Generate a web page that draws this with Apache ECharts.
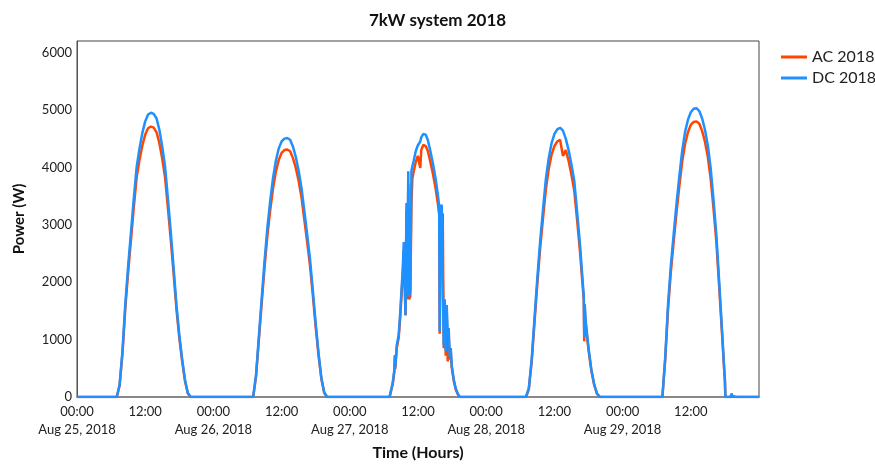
<!DOCTYPE html>
<html>
<head>
<meta charset="utf-8">
<script src="https://cdn.jsdelivr.net/npm/echarts@6/dist/echarts.min.js"></script>
<style>
html,body{margin:0;padding:0;background:#fff;}
#chart{width:875px;height:466px;}
</style>
</head>
<body>
<div id="chart"></div>
<script>
// ---- data (hours of day, watts) ----
const dayLabels = ['Aug 25, 2018', 'Aug 26, 2018', 'Aug 27, 2018', 'Aug 28, 2018', 'Aug 29, 2018'];
const seriesNames = ['AC 2018', 'DC 2018'];
const yTicks = [0, 1000, 2000, 3000, 4000, 5000, 6000];

const halfHours = [6.5,7,7.5,8,8.5,9,9.5,10,10.5,11,11.5,12,12.5,13,13.5,14,14.5,15,15.5,16,16.5,17,17.5,18,18.5,19,19.5,20];

const ac25 = [0,0,200,760,1550,2180,2740,3310,3830,4130,4380,4570,4680,4710,4690,4610,4420,4150,3820,3290,2740,2150,1530,1030,625,280,60,0];
const dc25 = [0,0,220,800,1620,2280,2870,3470,4010,4330,4600,4800,4920,4950,4930,4850,4650,4360,4010,3450,2870,2250,1600,1080,660,300,70,0];

const ac26 = [0,0,360,1000,1640,2260,2810,3260,3640,3930,4130,4250,4300,4310,4280,4160,3990,3760,3480,3090,2700,2290,1770,1220,725,315,75,0];
const dc26 = [0,0,380,1050,1720,2370,2950,3420,3820,4120,4330,4450,4500,4510,4480,4360,4180,3940,3640,3240,2830,2400,1850,1280,760,330,80,0];

const hours27 = [6.5,7.0,7.56,7.85,7.92,8.0,8.26,8.6,8.88,9.08,9.32,9.5,9.6,9.8,9.97,10.11,10.29,10.43,10.64,10.85,11.0,11.25,11.6,11.96,12.4,12.57,12.92,13.36,13.71,14.07,14.6,15.12,15.52,15.73,15.82,16.0,16.17,16.35,16.53,16.7,16.88,17.05,17.23,17.4,17.58,17.76,17.93,18.3,18.64,19.0,19.34,20.0];
const ac27 = [0,0,230,450,690,490,850,1030,1400,1740,2120,2570,2190,1420,3250,1700,3700,1700,1750,3380,3800,3930,4090,4200,3990,4300,4390,4370,4290,4140,3900,3620,3350,3170,1100,3150,2400,3200,850,1600,720,1500,620,1100,650,800,520,280,130,50,0,0];
const dc27 = [0,0,250,480,730,520,900,1080,1480,1830,2230,2700,2300,1430,3380,1800,3930,1750,1850,3950,3980,4120,4280,4380,4450,4520,4580,4570,4480,4330,4080,3790,3500,3320,1150,3300,3350,3380,900,1700,800,1600,1100,1200,700,850,550,300,150,60,0,0];

const hours28 = [6.5,7,7.5,8,8.5,9,9.5,10,10.5,11,11.5,12,12.5,13,13.5,14,14.5,15,15.5,16,16.5,17,17.17,17.25,17.33,17.5,18,18.5,19,19.5,20];
const ac28 = [0,0,140,610,1300,1980,2600,3120,3620,3970,4220,4370,4450,4480,4200,4300,4110,3870,3590,3080,2540,1900,1690,970,1550,1270,820,460,210,55,0];
const dc28 = [0,0,150,650,1370,2080,2720,3270,3800,4160,4420,4580,4660,4690,4640,4500,4300,4050,3760,3220,2660,1980,1760,1050,1620,1330,860,480,220,60,0];

const hours29 = [6.5,7,7.5,8,8.5,9,9.5,10,10.5,11,11.5,12,12.5,13,13.5,14,14.5,15,15.5,16,16.5,17,17.5,17.92,18.0,18.08,19.0,19.17,19.33,19.5,20];
const ac29 = [0,0,650,1540,2190,2720,3230,3690,4110,4410,4610,4740,4790,4800,4760,4630,4440,4180,3800,3280,2700,1910,1100,400,285,0,0,0,0,0,0];
const dc29 = [0,0,690,1620,2300,2850,3380,3860,4300,4620,4830,4960,5020,5030,4980,4850,4650,4380,3980,3430,2820,2000,1150,420,300,0,0,60,20,0,0];

// ---- build series (x = hours since Aug 25 00:00) ----
const days = [
  [halfHours, ac25, dc25],
  [halfHours, ac26, dc26],
  [hours27, ac27, dc27],
  [hours28, ac28, dc28],
  [hours29, ac29, dc29]
];
function build(which) {
  const out = [[0, 0]];
  days.forEach((d, i) => {
    d[0].forEach((h, j) => out.push([i * 24 + h, d[which][j]]));
  });
  out.push([120, 0]);
  return out;
}
const acData = build(1);
const dcData = build(2);

const FONT = 'Lato';
const chart = echarts.init(document.getElementById('chart'), null, {renderer: 'canvas'});
chart.setOption({
  animation: false,
  backgroundColor: '#fff',
  title: {
    text: '7kW system 2018',
    left: 'center',
    top: 7,
    textStyle: {fontFamily: FONT, fontWeight: 'bold', fontSize: 17, color: '#111'}
  },
  legend: {
    data: seriesNames,
    orient: 'vertical',
    left: 776,
    top: 44,
    icon: 'rect',
    itemWidth: 26,
    itemHeight: 3,
    itemGap: 5,
    textStyle: {fontFamily: FONT, fontSize: 16, color: '#222'}
  },
  grid: {
    left: 77, right: 116, top: 41, bottom: 67,
    show: true, borderColor: '#444', borderWidth: 1
  },
  xAxis: {
    type: 'value',
    min: 0, max: 120, interval: 12,
    name: 'Time (Hours)',
    nameLocation: 'middle',
    nameGap: 48,
    nameTextStyle: {fontFamily: FONT, fontWeight: 'bold', fontSize: 16, color: '#111'},
    axisLine: {show: true, lineStyle: {color: '#888', width: 2}},
    axisTick: {show: false},
    splitLine: {show: false},
    axisLabel: {
      fontFamily: FONT, fontSize: 13, color: '#222', margin: 6, lineHeight: 18,
      formatter: function (v) {
        if (v >= 120) return '';
        const d = Math.floor(v / 24), h = v - d * 24;
        return h === 0 ? '00:00\n' + dayLabels[d] : '12:00';
      }
    }
  },
  yAxis: {
    type: 'value',
    min: yTicks[0], max: 6200, interval: 1000,
    name: 'Power (W)',
    nameLocation: 'middle',
    nameGap: 50,
    nameTextStyle: {fontFamily: FONT, fontWeight: 'bold', fontSize: 15, color: '#111'},
    axisLine: {show: true, lineStyle: {color: '#555', width: 1}},
    axisTick: {show: false},
    splitLine: {show: false},
    axisLabel: {fontFamily: FONT, fontSize: 13, color: '#222', margin: 5, showMaxLabel: false,
      formatter: function (v) { return String(v); }}
  },
  series: [
    {name: seriesNames[0], type: 'line', data: acData, showSymbol: false, symbol: 'none',
     lineStyle: {color: '#FF4500', width: 2.5}, itemStyle: {color: '#FF4500'}},
    {name: seriesNames[1], type: 'line', data: dcData, showSymbol: false, symbol: 'none',
     lineStyle: {color: '#1E90FF', width: 2.5}, itemStyle: {color: '#1E90FF'}}
  ]
});
</script>
</body>
</html>
